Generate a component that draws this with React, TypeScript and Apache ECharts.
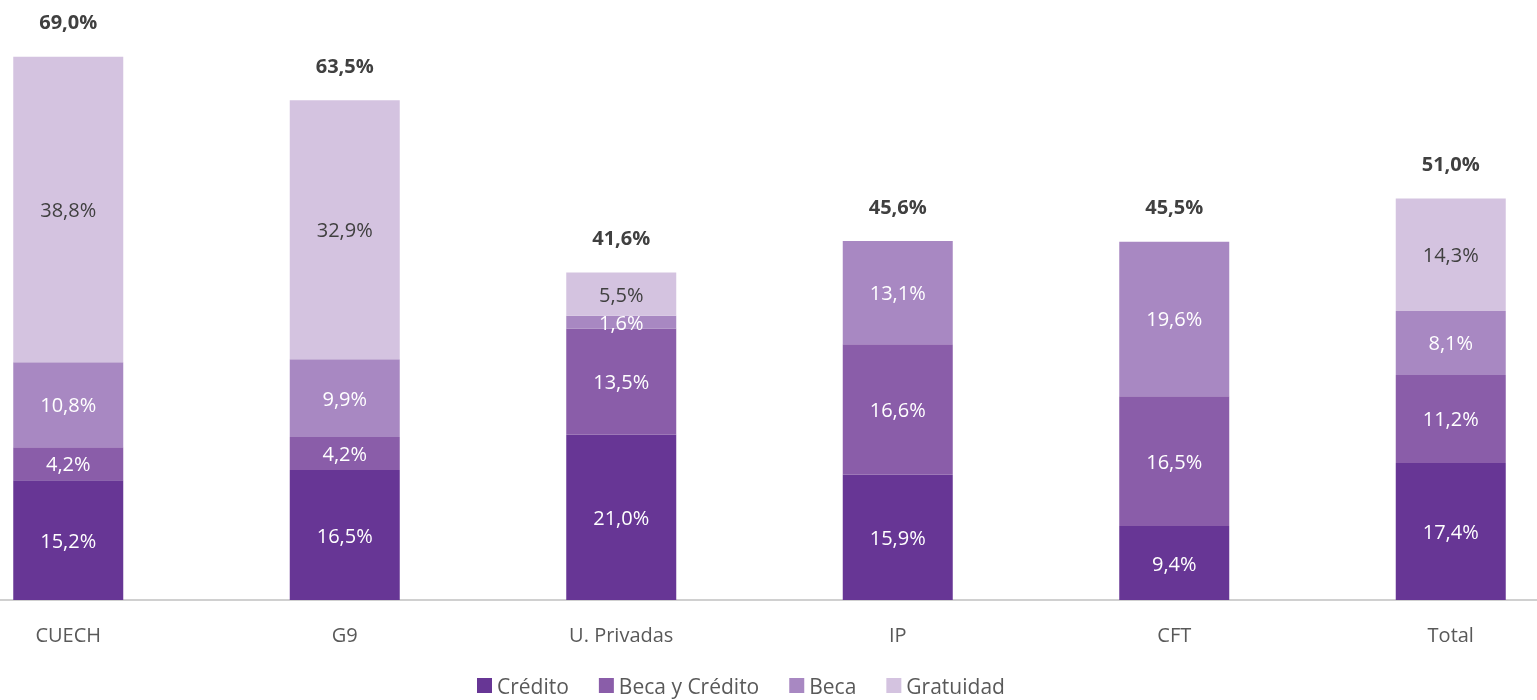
import React, { useEffect, useRef } from "react";
import * as echarts from "echarts";

const categories = ["CUECH", "G9", "U. Privadas", "IP", "CFT", "Total"];
const credito = [15.2, 16.5, 21.0, 15.9, 9.4, 17.4];
const becaYCredito = [4.2, 4.2, 13.5, 16.6, 16.5, 11.2];
const beca = [10.8, 9.9, 1.6, 13.1, 19.6, 8.1];
const gratuidad = [38.8, 32.9, 5.5, null, null, 14.3];
const totals = [69.0, 63.5, 41.6, 45.6, 45.5, 51.0];

const fmt = (v: number) => v.toFixed(1).replace(".", ",") + "%";
const FONT = "'Open Sans', 'Noto Sans', sans-serif";

export default function App() {
  const ref = useRef<HTMLDivElement>(null);
  useEffect(() => {
    const chart = echarts.init(ref.current!, null, { renderer: "svg" });
    const seg = (name: string, data: (number | null)[], color: string, labelColor: string) => ({
      name,
      type: "bar",
      stack: "s",
      data,
      barWidth: 110,
      itemStyle: { color },
      label: {
        show: true,
        position: "inside",
        color: labelColor,
        fontFamily: FONT,
        fontSize: 20,
        formatter: (p: any) => (p.value == null ? "" : fmt(p.value)),
      },
    });
    chart.setOption({
      animation: false,
      grid: { left: 0, right: 0, top: 49, bottom: 100 },
      legend: {
        data: ["Crédito", "Beca y Crédito", "Beca", "Gratuidad"],
        top: 670,
        left: 542,
        itemWidth: 15,
        itemHeight: 15,
        itemGap: 30,
        icon: "rect",
        textStyle: { color: "#595959", fontFamily: FONT, fontSize: 21, lineHeight: 21 },
      },
      xAxis: {
        type: "category",
        data: categories,
        axisLine: { lineStyle: { color: "#d0d0d0", width: 2 } },
        axisTick: { show: false },
        axisLabel: { color: "#595959", fontFamily: FONT, fontSize: 20, margin: 24 },
      },
      yAxis: { type: "value", min: 0, max: 70, show: false, splitLine: { show: false } },
      series: [
        seg("Crédito", credito, "#673695", "#ffffff"),
        seg("Beca y Crédito", becaYCredito, "#8a5da9", "#ffffff"),
        seg("Beca", beca, "#a888c2", "#ffffff"),
        seg("Gratuidad", gratuidad, "#d4c3e0", "#404040"),
        {
          name: "total",
          type: "bar",
          stack: "s",
          data: totals.map(() => 0),
          barWidth: 110,
          itemStyle: { color: "transparent" },
          label: {
            show: true,
            position: "top",
            distance: 25,
            color: "#404040",
            fontWeight: "bold",
            fontFamily: FONT,
            fontSize: 20,
            formatter: (p: any) => fmt(totals[p.dataIndex]),
          },
        },
      ],
    });
    return () => chart.dispose();
  }, []);
  return (
    <div
      style={{
        position: "fixed",
        left: 0,
        top: 0,
        width: 1537,
        height: 700,
        overflow: "hidden",
      }}
    >
      <div
        ref={ref}
        style={{ position: "absolute", left: -70, top: 0, width: 1659, height: 700 }}
      />
    </div>
  );
}
